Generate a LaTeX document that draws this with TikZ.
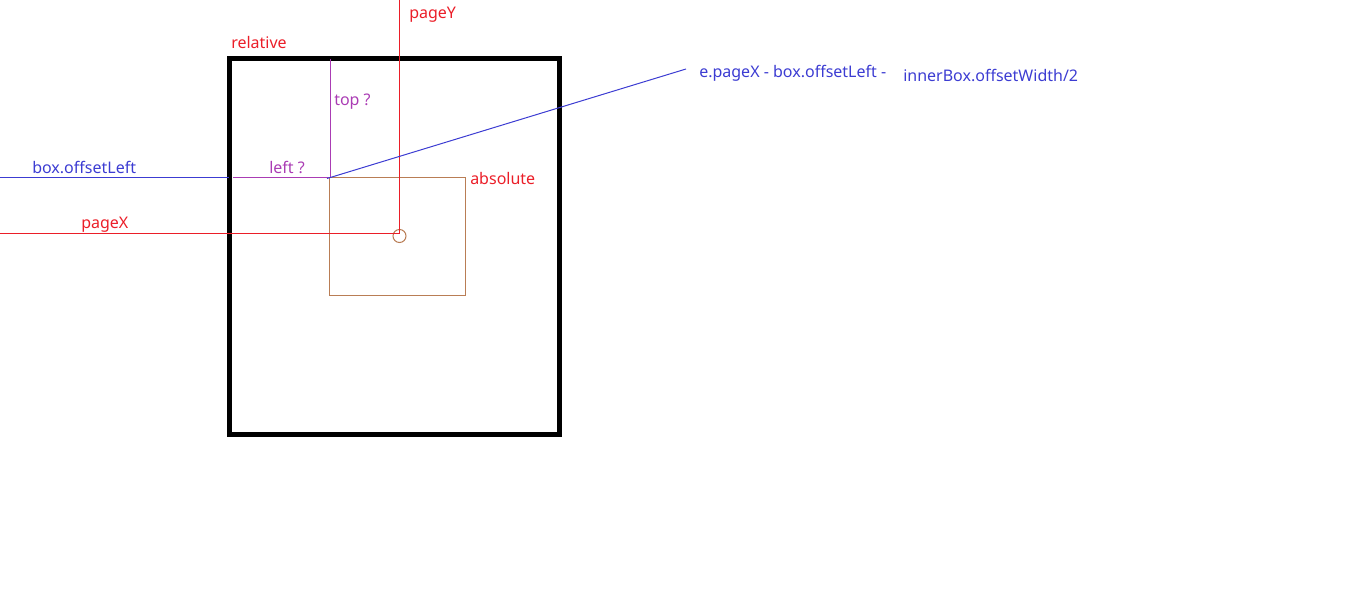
\documentclass[tikz,border=0pt]{standalone}
\usepackage{fontspec}
\setmainfont{Noto Sans}
\definecolor{myred}{RGB}{235,30,40}
\definecolor{myblue}{RGB}{60,60,210}
\definecolor{mypurple}{RGB}{170,60,180}
\definecolor{mybrown}{RGB}{185,125,85}
\begin{document}
\begin{tikzpicture}[x=0.75pt,y=-0.75pt,
  lbl/.style={anchor=base west,inner sep=0pt,font=\fontsize{12}{14}\selectfont},
  thin line/.style={line width=0.75pt}]
\useasboundingbox (0,0) rectangle (1360,591);
% outer relative box
\node[draw=black,line width=3.75pt,outer sep=0pt,minimum width=330*0.75pt,minimum height=376*0.75pt,inner sep=0pt,anchor=north west] (rel) at (229,58.5) {};
% inner absolute box
\node[draw=mybrown,thin line,outer sep=0pt,minimum width=136*0.75pt,minimum height=118*0.75pt,inner sep=0pt,anchor=north west] (abs) at (329.5,177.5) {};
% mouse point
\node[draw=mybrown,circle,thin line,minimum size=13*0.75pt,inner sep=0pt] (mouse) at (399.5,236) {};
\coordinate (pyTop) at (399.5,0);
\coordinate (pxLeft) at (0,233.5);
\coordinate (mp) at (399.5,233.5);
\draw[myred,thin line] (pyTop) -- (mp);
\draw[myred,thin line] (pxLeft) -- (mp);
% blue offsetLeft line
\coordinate (blL) at (0,177.5);
\coordinate (blR) at (229,177.5);
\draw[myblue,thin line] (blL) -- (blR);
% purple top/left
\coordinate (pTop) at (330.5,59);
\coordinate (pCorner) at (330.5,177.5);
\coordinate (pLeft) at (233,177.5);
\draw[mypurple,thin line] (pTop) -- (pCorner) -- (pLeft);
% blue diagonal
\coordinate (dA) at (327,178.5);
\coordinate (dB) at (686,69);
\draw[myblue,thin line] (dA) -- (dB);
% labels
\node[lbl,text=myred] (tpageY) at (409,19) {pageY};
\node[lbl,text=myred] (trel) at (231,49) {relative};
\node[lbl,text=mypurple] (ttop) at (334,106) {top ?};
\node[lbl,text=mypurple] (tleft) at (269,174) {left ?};
\node[lbl,text=myblue] (tbox) at (32,174) {box.offsetLeft};
\node[lbl,text=myred] (tpageX) at (81,229) {pageX};
\node[lbl,text=myred] (tabs) at (470,185) {absolute};
\node[lbl,text=myblue] (tform1) at (699,78) {e.pageX - box.offsetLeft -};
\node[lbl,text=myblue] (tform2) at (903,82) {innerBox.offsetWidth/2};
\end{tikzpicture}
\end{document}
